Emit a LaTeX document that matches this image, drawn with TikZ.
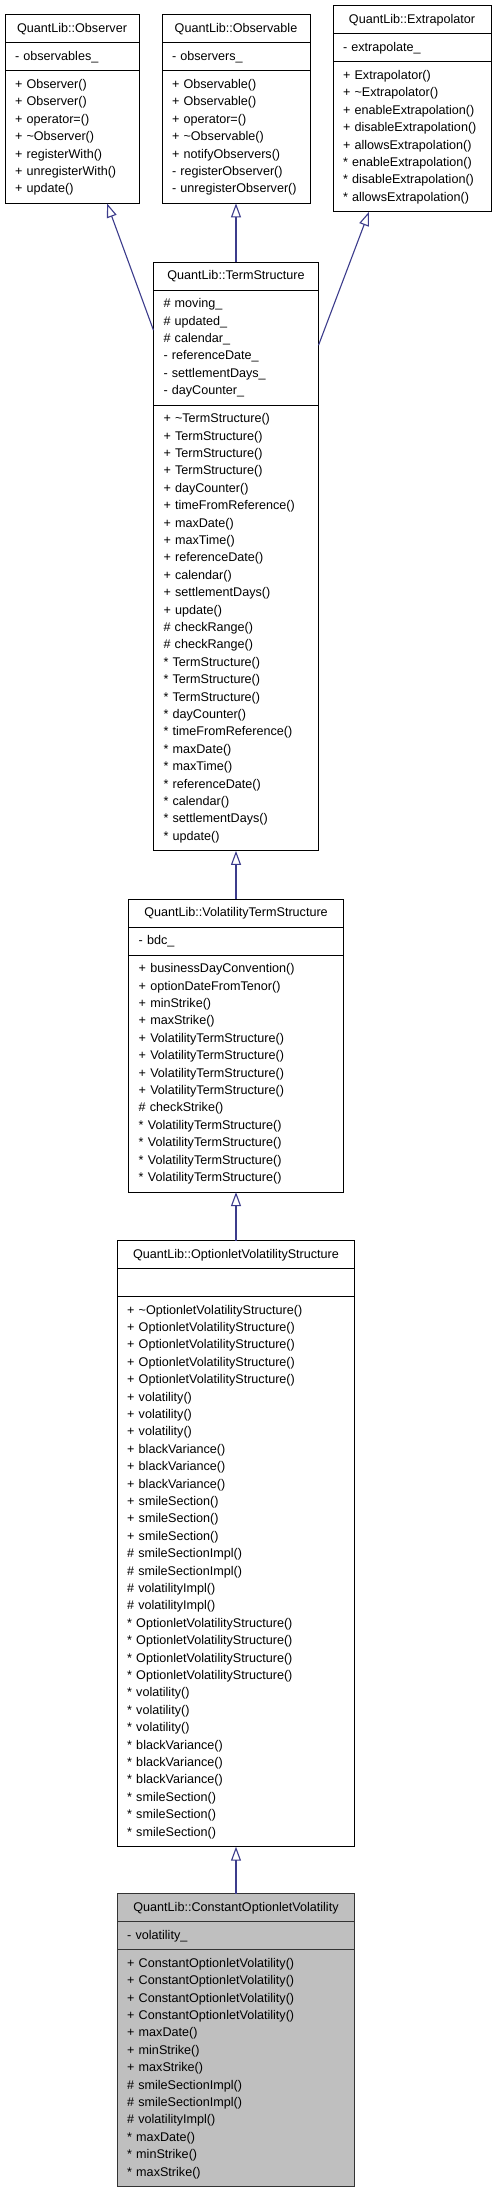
\documentclass[tikz,border=0pt]{standalone}
\usepackage{fontspec}
\setmainfont{Liberation Sans}
\usetikzlibrary{positioning,arrows.meta}

\definecolor{edgeblue}{HTML}{3C3C8C}
\definecolor{classgray}{HTML}{BFBFBF}

\tikzset{
  umlfont/.style={font=\fontsize{12.6}{17.4}\selectfont},
  classbox/.style={draw, line width=1pt, outer sep=0pt, inner xsep=10pt, inner ysep=5.3pt,
    text width=#1, align=left, umlfont, execute at begin node=\strut, execute at end node=\strut},
  classname/.style={classbox=#1, align=center},
  current/.style={fill=classgray, draw=black!80},
  inherit/.style={draw=edgeblue, line width=1.1pt, -{Triangle[open, length=14pt, width=10pt]}},
}

\begin{document}
\begin{tikzpicture}[x=1pt, y=-1pt]

\fill[white] (0,0) rectangle (496,2192);
\useasboundingbox (0,0) rectangle (496,2192);

% base classes
\node[classname=114pt, anchor=north] (observer) at (72,15) {QuantLib::Observer};
\node[classbox=114pt, below=0pt of observer] (observerattr) {- observables\_};
\node[classbox=114pt, below=0pt of observerattr] (observerops) {+ Observer()\\+ Observer()\\+ operator=()\\+ \textasciitilde Observer()\\+ registerWith()\\+ unregisterWith()\\+ update()};

\node[classname=128pt, anchor=north] (observable) at (236,15) {QuantLib::Observable};
\node[classbox=128pt, below=0pt of observable] (observableattr) {- observers\_};
\node[classbox=128pt, below=0pt of observableattr] (observableops) {+ Observable()\\+ Observable()\\+ operator=()\\+ \textasciitilde Observable()\\+ notifyObservers()\\- registerObserver()\\- unregisterObserver()};

\node[classname=138pt, anchor=north] (extrapolator) at (412,6) {QuantLib::Extrapolator};
\node[classbox=138pt, below=0pt of extrapolator] (extrapolatorattr) {- extrapolate\_};
\node[classbox=138pt, below=0pt of extrapolatorattr] (extrapolatorops) {+ Extrapolator()\\+ \textasciitilde Extrapolator()\\+ enableExtrapolation()\\+ disableExtrapolation()\\+ allowsExtrapolation()\\{}* enableExtrapolation()\\{}* disableExtrapolation()\\{}* allowsExtrapolation()};

% term structure
\node[classname=145pt, anchor=north] (ts) at (236,262.3) {QuantLib::TermStructure};
\node[classbox=145pt, below=0pt of ts] (tsattr) {\# moving\_\\\# updated\_\\\# calendar\_\\- referenceDate\_\\- settlementDays\_\\- dayCounter\_};
\node[classbox=145pt, below=0pt of tsattr] (tsops) {+ \textasciitilde TermStructure()\\+ TermStructure()\\+ TermStructure()\\+ TermStructure()\\+ dayCounter()\\+ timeFromReference()\\+ maxDate()\\+ maxTime()\\+ referenceDate()\\+ calendar()\\+ settlementDays()\\+ update()\\\# checkRange()\\\# checkRange()\\{}* TermStructure()\\{}* TermStructure()\\{}* TermStructure()\\{}* dayCounter()\\{}* timeFromReference()\\{}* maxDate()\\{}* maxTime()\\{}* referenceDate()\\{}* calendar()\\{}* settlementDays()\\{}* update()};

% volatility term structure
\node[classname=194.6pt, anchor=north] (vts) at (236,899.3) {QuantLib::VolatilityTermStructure};
\node[classbox=194.6pt, below=0pt of vts] (vtsattr) {- bdc\_};
\node[classbox=194.6pt, below=0pt of vtsattr] (vtsops) {+ businessDayConvention()\\+ optionDateFromTenor()\\+ minStrike()\\+ maxStrike()\\+ VolatilityTermStructure()\\+ VolatilityTermStructure()\\+ VolatilityTermStructure()\\+ VolatilityTermStructure()\\\# checkStrike()\\{}* VolatilityTermStructure()\\{}* VolatilityTermStructure()\\{}* VolatilityTermStructure()\\{}* VolatilityTermStructure()};

% optionlet volatility structure
\node[classname=217.7pt, anchor=north] (ovs) at (236,1240.7) {QuantLib::OptionletVolatilityStructure};
\node[classbox=217.7pt, below=0pt of ovs] (ovsattr) {};
\node[classbox=217.7pt, below=0pt of ovsattr] (ovsops) {+ \textasciitilde OptionletVolatilityStructure()\\+ OptionletVolatilityStructure()\\+ OptionletVolatilityStructure()\\+ OptionletVolatilityStructure()\\+ OptionletVolatilityStructure()\\+ volatility()\\+ volatility()\\+ volatility()\\+ blackVariance()\\+ blackVariance()\\+ blackVariance()\\+ smileSection()\\+ smileSection()\\+ smileSection()\\\# smileSectionImpl()\\\# smileSectionImpl()\\\# volatilityImpl()\\\# volatilityImpl()\\{}* OptionletVolatilityStructure()\\{}* OptionletVolatilityStructure()\\{}* OptionletVolatilityStructure()\\{}* OptionletVolatilityStructure()\\{}* volatility()\\{}* volatility()\\{}* volatility()\\{}* blackVariance()\\{}* blackVariance()\\{}* blackVariance()\\{}* smileSection()\\{}* smileSection()\\{}* smileSection()};

% constant optionlet volatility
\node[classname=217.7pt, current, anchor=north] (cov) at (236,1893.7) {QuantLib::ConstantOptionletVolatility};
\node[classbox=217.7pt, current, below=0pt of cov] (covattr) {- volatility\_};
\node[classbox=217.7pt, current, below=0pt of covattr] (covops) {+ ConstantOptionletVolatility()\\+ ConstantOptionletVolatility()\\+ ConstantOptionletVolatility()\\+ ConstantOptionletVolatility()\\+ maxDate()\\+ minStrike()\\+ maxStrike()\\\# smileSectionImpl()\\\# smileSectionImpl()\\\# volatilityImpl()\\{}* maxDate()\\{}* minStrike()\\{}* maxStrike()};

% inheritance
\draw[inherit] (ts.north) -- (observableops.south);
\draw[inherit] ([yshift=17.5pt]tsattr.west) -- ([xshift=35pt]observerops.south);
\draw[inherit] ([yshift=2.5pt]tsattr.east) -- ([xshift=-43pt]extrapolatorops.south);
\draw[inherit] (vts.north) -- (tsops.south);
\draw[inherit] (ovs.north) -- (vtsops.south);
\draw[inherit] (cov.north) -- (ovsops.south);

\end{tikzpicture}
\end{document}
